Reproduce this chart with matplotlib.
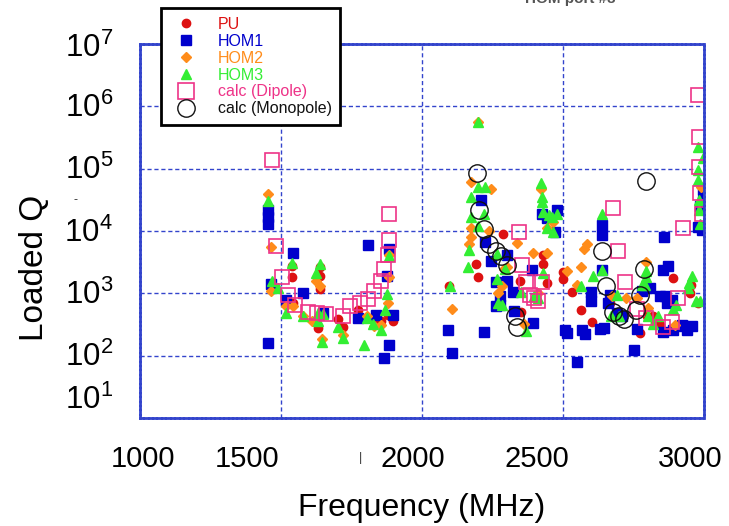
import matplotlib
matplotlib.use("Agg")
import matplotlib.pyplot as plt
from matplotlib.lines import Line2D
from matplotlib.transforms import offset_copy
import numpy as np

plt.rcParams['font.family'] = ['Liberation Sans', 'DejaVu Sans']
plt.rcParams['mathtext.fontset'] = 'custom'
plt.rcParams['mathtext.rm'] = 'Liberation Sans'
plt.rcParams['mathtext.it'] = 'Liberation Sans:italic'

# ---------------- data (frequency MHz, loaded Q) ----------------
pu_f = [1538, 1538, 1544, 1638, 1638, 1638, 1632, 1701, 1721, 1774, 1839, 1855, 1880, 1898,
        2097, 2191, 2200, 2289, 2348, 2351, 2428, 2428, 2442, 2501, 2501, 2531, 2564, 2604,
        2665, 2700, 2773, 2799, 2820, 2826, 2844, 2891, 2950, 2953, 2978]
pu_q = [2700, 1860, 700, 2600, 1900, 1170, 275, 390, 285, 540, 400, 360, 450, 360,
        1300, 3000, 1800, 9100, 1550, 510, 4100, 3000, 1450, 2200, 1700, 1050, 540, 350,
        690, 480, 230, 440, 430, 350, 310, 1740, 1000, 1350, 710]

hom1_f = [1454, 1454, 1454, 1544, 1463, 1518, 1579, 1455, 1648, 1774, 1810, 1884, 1875, 1837,
          1898, 1884, 1865,
          2093, 2105, 2209, 2223, 2245, 2302, 2389, 2302, 2262, 2322, 2277, 2277, 2262, 2326,
          2394, 2221, 2424, 2477, 2472, 2445,
          2639, 2639, 2639, 2857, 2601, 2601, 2508, 2513, 2568, 2578, 2631, 2646, 2667, 2661,
          2690, 2708, 2808, 2780, 2761, 2753, 2551, 2855, 2872, 2844, 2862, 2885, 2868, 2856,
          2891, 2927, 2956, 2921, 2938, 2998, 2998, 2986, 2994, 2980]
hom1_q = [22000, 17000, 13000, 4400, 1400, 780, 1000, 158, 490, 400, 5900, 5200, 1900, 450,
          450, 148, 93,
          260, 112, 31000, 6700, 3300, 4100, 2400, 1600, 1500, 1070, 890, 650, 620, 520,
          340, 240, 19000, 22000, 9800, 16000,
          12500, 8700, 2400, 8100, 1070, 740, 260, 230, 260, 225, 270, 275, 940, 690,
          480, 430, 1200, 1100, 265, 123, 78, 2340, 2700, 890, 890, 770, 690, 240,
          260, 300, 300, 310, 260, 46000, 30000, 25000, 10500, 11700]

hom2_f = [1454, 1465, 1465, 1518, 1544, 1579, 1624, 1638, 1609, 1645, 1719, 1804, 1855, 1884,
          1884, 1880, 1829,
          2105, 2173, 2244, 2173, 2173, 2239, 2168, 2338, 2393, 2445, 2302, 2290, 2269, 2283,
          2413, 2362, 2200, 2422, 2463, 2445,
          2584, 2576, 2563, 2515, 2548, 2673, 2723, 2794, 2761, 2897, 2803, 2990]
hom2_q = [39000, 5600, 1100, 630, 620, 440, 1600, 1300, 355, 186, 215, 440, 310, 4100,
          1800, 700, 300,
          560, 60000, 47000, 11000, 8000, 10000, 6300, 6500, 4500, 4500, 2600, 2500, 1000, 1300,
          1000, 325, 570000, 48000, 14000, 11000,
          6200, 5100, 2600, 2300, 1350, 890, 830, 3200, 830, 310, 580, 51000]

hom3_f = [1454, 1467, 1488, 1518, 1538, 1579, 1624, 1638, 1645, 1632, 1632, 1701, 1719, 1794,
          1804, 1825, 1855, 1884, 1875, 1870, 1648,
          2200, 2198, 2223, 2173, 2221, 2173, 2198, 2168, 2267, 2162, 2267, 2351, 2100, 2428,
          2397, 2412, 2270, 2284, 2369, 2295, 2422, 2426, 2426, 2430, 2450, 2460, 2442, 2463,
          2478,
          2639, 2639, 2607, 2563, 2690, 2670, 2700, 2794, 2794, 2790, 2780, 2956, 2944, 2946,
          2970, 2985, 2803, 2838, 2820, 2891, 2900, 2977, 2995, 2980, 2980, 2982, 2982, 2986]
hom3_q = [30000, 1550, 1200, 490, 3100, 425, 2100, 3000, 163, 480, 355, 285, 190, 148,
          400, 325, 260, 3900, 980, 540, 470,
          570000, 50000, 50000, 35000, 19000, 17000, 12000, 4900, 4300, 2600, 1700, 1070, 1300, 2100,
          900, 850, 700, 650, 250, 2470, 59000, 35000, 29000, 20000, 18000, 17000, 11000, 9800,
          19000,
          19000, 2400, 1900, 1300, 930, 430, 430, 2250, 1860, 1350, 1350, 1900, 1200, 1450,
          750, 750, 430, 430, 320, 570, 650, 220000, 150000, 95000, 66000, 32000, 22000, 13000]

dip_f = [1469, 1481, 1502, 1526, 1550, 1597, 1629, 1660, 1721, 1745, 1780, 1807, 1831, 1855,
         1866, 1878, 1883, 1884,
         2344, 2353, 2369, 2424, 2383, 2398, 2413,
         2676, 2694, 2720, 2761, 2796, 2856, 2888, 2909, 2924, 2980, 2981, 2981, 2986, 2992]
dip_q = [140000, 5800, 1850, 940, 660, 510, 480, 470, 425, 620, 690, 800, 1100, 1600,
         2500, 4100, 7200, 19000,
         9800, 2800, 1500, 1500, 930, 830, 760,
         23000, 4700, 1500, 570, 400, 290, 350, 830, 11000, 1500000, 320000, 105000, 40000, 19000]

mono_f = [2194, 2203, 2220, 2239, 2262, 2280, 2300, 2330, 2338,
          2640, 2651, 2676, 2699, 2717, 2758, 2773, 2788, 2794]
mono_q = [85000, 22000, 10700, 6300, 4700, 4000, 2900, 440, 290,
          4800, 1300, 510, 425, 385, 540, 940, 2500, 64000]

x_ticks = [1000, 1500, 2000, 2500, 3000]
x_tick_labels = ['1000', '1500', '2000', '2500', '3000']
y_ticks = [1e1, 1e2, 1e3, 1e4, 1e5, 1e6, 1e7]
y_tick_labels = [r'$\mathdefault{10^{%d}}$' % e for e in range(1, 8)]

# ---------------- styling ----------------
c_pu = '#dd1111'
c_h1 = '#0000cc'
c_h2 = '#ff8c1a'
c_h3 = '#33ee33'
c_dip = '#ee3388'
c_mono = '#111111'
grid_c = '#3344cc'

fig = plt.figure(figsize=(7.29, 5.26), dpi=100)
ax = fig.add_axes([140/729, 1-418/526, (704-140)/729, (418-44)/526])

ax.plot(pu_f, pu_q, 'o', ms=6, color=c_pu, mec=c_pu, ls='none')
ax.plot(hom1_f, hom1_q, 's', ms=6.5, color=c_h1, mec=c_h1, ls='none')
ax.plot(hom2_f, hom2_q, 'D', ms=5, color=c_h2, mec=c_h2, ls='none')
ax.plot(hom3_f, hom3_q, '^', ms=7, color=c_h3, mec=c_h3, ls='none')
ax.plot(dip_f, dip_q, 's', ms=9.5, mfc='none', mec=c_dip, mew=1.2, ls='none')
ax.plot(mono_f, mono_q, 'o', ms=12.5, mfc='none', mec=c_mono, mew=1.0, ls='none')

ax.set_yscale('log')
ax.set_xlim(1000, 3000)
ax.set_ylim(1e1, 1e7)
ax.set_xticks(x_ticks)
ax.set_yticks(y_ticks)
ax.yaxis.set_minor_locator(matplotlib.ticker.NullLocator())
ax.tick_params(axis='both', length=0, labelbottom=False, labelleft=False)

# tick labels placed as in the reference (slightly shifted from the grid)
x_label_dx = [3, -34, -9, -26, -14]
for t, s, dx in zip(x_ticks, x_tick_labels, x_label_dx):
    tr = offset_copy(ax.get_xaxis_transform(), fig=fig, x=dx, y=-41, units='dots')
    ax.text(t, 0, s, transform=tr, ha='center', va='center', fontsize=21, clip_on=False)
y_label_dy = [18, -2, -2, -2, -2, -2, -4]
for t, s, dy in zip(y_ticks, y_tick_labels, y_label_dy):
    tr = offset_copy(ax.get_yaxis_transform(), fig=fig, x=-27, y=dy, units='dots')
    ax.text(0, t, s, transform=tr, ha='right', va='center', fontsize=22.5, clip_on=False)

ax.grid(True, which='major', color=grid_c, ls=(0, (3, 2)), lw=1.0)
ax.set_axisbelow(True)
for s in ax.spines.values():
    s.set_color(grid_c)
    s.set_linewidth(2)
    s.set_linestyle((0, (1, 0.6)))

ax.set_xlabel('Frequency (MHz)', fontsize=23)
ax.xaxis.set_label_coords(0.5, -(508 - 418) / 374)
ax.xaxis.label.set_va('center')
ax.set_ylabel('Loaded Q', fontsize=24)
ax.yaxis.set_label_coords((50 - 140) / 564, (418 - 268) / 374)

handles = [
    Line2D([], [], marker='o', ls='none', ms=6, color=c_pu),
    Line2D([], [], marker='s', ls='none', ms=6.5, color=c_h1),
    Line2D([], [], marker='D', ls='none', ms=5, color=c_h2),
    Line2D([], [], marker='^', ls='none', ms=7, color=c_h3),
    Line2D([], [], marker='s', ls='none', ms=11, mfc='none', mec=c_dip, mew=1.2),
    Line2D([], [], marker='o', ls='none', ms=12.5, mfc='none', mec=c_mono, mew=1.0),
]
labels = ['PU', 'HOM1', 'HOM2', 'HOM3', 'calc (Dipole)', 'calc (Monopole)']
text_colors = [c_pu, c_h1, c_h2, c_h3, c_dip, c_mono]
leg = fig.legend(handles, labels, loc='upper left', bbox_to_anchor=(161/729, 1-8/526),
                 borderaxespad=0, fontsize=11.5, frameon=True, fancybox=False,
                 labelspacing=0.12, handletextpad=1.0, borderpad=0.55, handlelength=2.0)
leg.get_frame().set_edgecolor('black')
leg.get_frame().set_linewidth(2)
leg.get_frame().set_alpha(1)
for t, c in zip(leg.get_texts(), text_colors):
    t.set_color(c)

fig.text(570/729, 1 + 1/526, 'HOM port #3', ha='center', va='center', fontsize=11,
         color='#555555', fontweight='bold')
fig.text(75/729, 1 - 200/526, '-', ha='center', va='center', fontsize=9, color='#333333')
fig.text(360/729, 1 - 458/526, '|', ha='center', va='center', fontsize=9, color='#333333')

fig.savefig('out.png', dpi=100)
